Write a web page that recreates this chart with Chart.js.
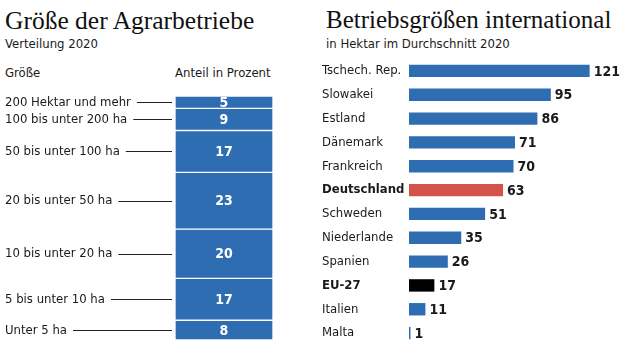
<!DOCTYPE html>
<html>
<head>
<meta charset="utf-8">
<script src="https://cdn.jsdelivr.net/npm/chart.js@4"></script>
<style>
  body { margin: 0; width: 640px; height: 350px; background: #fff; position: relative; overflow: hidden;
         font-family: "DejaVu Sans Condensed", sans-serif; color: #1a1a1a; }
  .title { position: absolute; top: 6px; font-family: "Liberation Serif", serif; font-size: 25.5px; color: #111; white-space: nowrap; }
  .sub { position: absolute; top: 36px; font-size: 13px; white-space: nowrap; }
  .head { position: absolute; top: 65px; font-size: 13px; white-space: nowrap; }
  canvas { position: absolute; }
</style>
</head>
<body>
<div class="title" style="left:5px">Größe der Agrarbetriebe</div>
<div class="sub" style="left:5px">Verteilung 2020</div>
<div class="head" style="left:5px">Größe</div>
<div class="head" style="left:175px">Anteil in Prozent</div>

<div class="title" style="left:326px;font-size:25px">Betriebsgrößen international</div>
<div class="sub" style="left:326px">in Hektar im Durchschnitt 2020</div>

<div style="position:absolute;left:0;top:88px;width:320px;height:258px"><canvas id="share-chart"></canvas></div>
<div style="position:absolute;left:322px;top:59px;width:318px;height:286px"><canvas id="country-chart"></canvas></div>

<script>
const FONT = '"DejaVu Sans Condensed", sans-serif';
const BLUE = '#2f6db3';
const RED = '#d3534a';

// Left: distribution by size class (top to bottom)
const sizeClasses = ["200 Hektar und mehr", "100 bis unter 200 ha", "50 bis unter 100 ha",
  "20 bis unter 50 ha", "10 bis unter 20 ha", "5 bis unter 10 ha", "Unter 5 ha"];
const sizeShares = [5, 9, 17, 23, 20, 17, 8];

// Right: average farm size per country
const countries = ["Tschech. Rep.", "Slowakei", "Estland", "Dänemark", "Frankreich", "Deutschland",
  "Schweden", "Niederlande", "Spanien", "EU-27", "Italien", "Malta"];
const hectares = [121, 95, 86, 71, 70, 63, 51, 35, 26, 17, 11, 1];
const boldCountries = ["Deutschland", "EU-27"];

//Stacked column with leader lines

const shareLabels = {
  id: 'shareLabels',
  afterDatasetsDraw(chart) {
    const ctx = chart.ctx;
    const left = chart.chartArea.left;
    ctx.save();
    chart.data.datasets.forEach((ds, i) => {
      const bar = chart.getDatasetMeta(i).data[0];
      const cy = (bar.y + bar.base) / 2;
      // value inside segment
      ctx.font = 'bold 14px ' + FONT;
      ctx.fillStyle = '#fff';
      ctx.textAlign = 'center';
      ctx.textBaseline = 'middle';
      ctx.fillText(ds.data[0], bar.x, cy + 1);
      // category text + leader line
      ctx.font = '13px ' + FONT;
      ctx.fillStyle = '#1a1a1a';
      ctx.textAlign = 'left';
      ctx.fillText(ds.label, 5, cy);
      const end = 5 + ctx.measureText(ds.label).width;
      ctx.strokeStyle = '#222';
      ctx.lineWidth = 1;
      ctx.beginPath();
      ctx.moveTo(end + 6, Math.round(cy) + 0.5);
      ctx.lineTo(left - 3, Math.round(cy) + 0.5);
      ctx.stroke();
    });
    ctx.restore();
  }
};

// stack builds from bottom, so reverse the top-to-bottom lists
const shareSets = sizeClasses.map((name, i) => ({
  label: name,
  data: [sizeShares[i]],
  backgroundColor: BLUE,
  borderColor: '#fff',
  borderWidth: 1,
  borderSkipped: false
})).reverse();

new Chart(document.getElementById('share-chart'), {
  type: 'bar',
  data: { labels: ["Anteil"], datasets: shareSets },
  options: {
    responsive: true,
    maintainAspectRatio: false,
    animation: false,
    layout: { padding: { left: 175, right: 47, top: 8, bottom: 6 } },
    datasets: { bar: { barPercentage: 1, categoryPercentage: 1 } },
    scales: {
      x: { stacked: true, display: false },
      y: { stacked: true, display: false, min: 0, max: 99 }
    },
    plugins: { legend: { display: false }, tooltip: { enabled: false } }
  },
  plugins: [shareLabels]
});

//Horizontal bars by country

const valueLabels = {
  id: 'valueLabels',
  afterDatasetsDraw(chart) {
    const ctx = chart.ctx;
    const bars = chart.getDatasetMeta(0).data;
    ctx.save();
    ctx.font = 'bold 14px ' + FONT;
    ctx.fillStyle = '#1a1a1a';
    ctx.textAlign = 'left';
    ctx.textBaseline = 'middle';
    bars.forEach((bar, i) => {
      ctx.fillText(hectares[i], bar.x + 4, bar.y + 1);
    });
    ctx.restore();
  }
};

new Chart(document.getElementById('country-chart'), {
  type: 'bar',
  data: {
    labels: countries,
    datasets: [{
      data: hectares,
      backgroundColor: countries.map(c => c === "Deutschland" ? RED : c === "EU-27" ? '#000' : BLUE),
      barPercentage: 0.52,
      categoryPercentage: 1
    }]
  },
  options: {
    indexAxis: 'y',
    responsive: true,
    maintainAspectRatio: false,
    animation: false,
    layout: { padding: { right: 22 } },
    scales: {
      x: { display: false, min: 0, max: 140 },
      y: {
        grid: { display: false },
        border: { display: false },
        afterFit: scale => {
          scale.width = 87;
          // no extra room for half label heights, rows fill the canvas
          scale.paddingTop = 0;
          scale.paddingBottom = 0;
        },
        ticks: {
          crossAlign: 'far',
          padding: 0,
          color: '#1a1a1a',
          font: c => ({ family: FONT, size: 13,
            weight: boldCountries.includes(countries[c.index]) ? 'bold' : 'normal' })
        }
      }
    },
    plugins: { legend: { display: false }, tooltip: { enabled: false } }
  },
  plugins: [valueLabels]
});
</script>
</body>
</html>
